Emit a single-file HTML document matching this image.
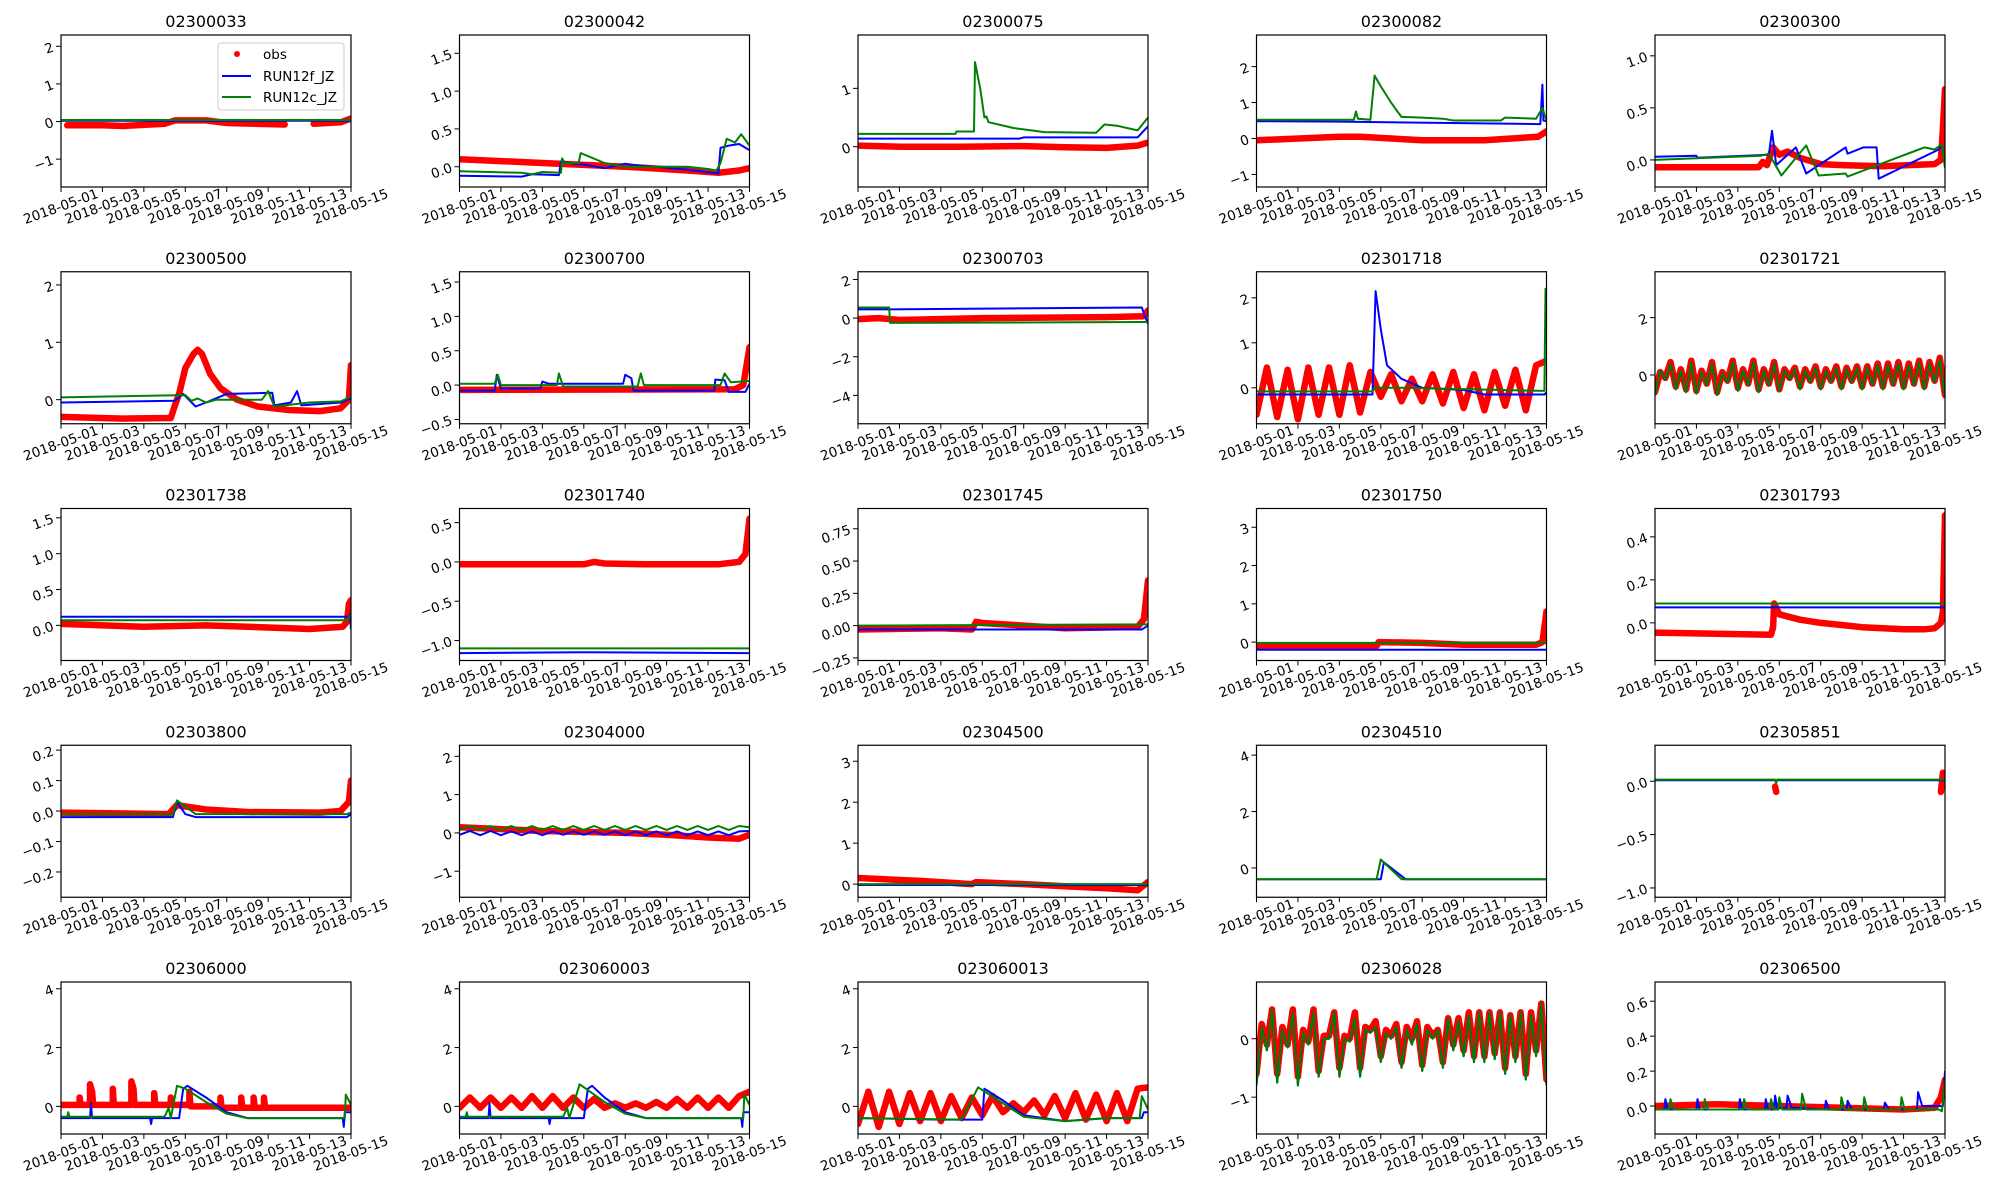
<!DOCTYPE html>
<html><head><meta charset="utf-8"><style>
html,body{margin:0;padding:0;background:#fff;}
svg{display:block;font-family:"DejaVu Sans","Liberation Sans",sans-serif;}
</style></head><body>
<svg id="fig" width="2000" height="1200" viewBox="0 0 2000 1200" xmlns="http://www.w3.org/2000/svg"></svg>
<script>
// ---------- data ----------
const titles = ["02300033","02300042","02300075","02300082","02300300","02300500","02300700","02300703","02301718","02301721","02301738","02301740","02301745","02301750","02301793","02303800","02304000","02304500","02304510","02305851","02306000","023060003","023060013","02306028","02306500"];
const yRanges = [[-1.74,2.3],[-0.268,1.742],[-0.69,1.914],[-1.35,2.88],[-0.26,1.2],[-0.42,2.23],[-0.563,1.65],[-5.47,2.4],[-0.8,2.58],[-1.7,3.6],[-0.49,1.63],[-1.254,0.68],[-0.27,0.907],[-0.48,3.49],[-0.175,0.532],[-0.283,0.216],[-1.68,2.29],[-0.32,3.39],[-1.04,4.35],[-1.087,0.337],[-0.94,4.23],[-0.94,4.23],[-0.94,4.23],[-1.63,0.97],[-0.16,0.71]];
const yTicks = [[-1,0,1,2],[0,0.5,1,1.5],[0,1],[-1,0,1,2],[0,0.5,1],[0,1,2],[-0.5,0,0.5,1,1.5],[-4,-2,0,2],[0,1,2],[0,2],[0,0.5,1,1.5],[-1,-0.5,0,0.5],[-0.25,0,0.25,0.5,0.75],[0,1,2,3],[0,0.2,0.4],[-0.2,-0.1,0,0.1,0.2],[-1,0,1,2],[0,1,2,3],[0,2,4],[-1,-0.5,0],[0,2,4],[0,2,4],[0,2,4],[-1,0],[0,0.2,0.4,0.6]];
const yTickLabels = [["−1","0","1","2"],["0.0","0.5","1.0","1.5"],["0","1"],["−1","0","1","2"],["0.0","0.5","1.0"],["0","1","2"],["−0.5","0.0","0.5","1.0","1.5"],["−4","−2","0","2"],["0","1","2"],["0","2"],["0.0","0.5","1.0","1.5"],["−1.0","−0.5","0.0","0.5"],["−0.25","0.00","0.25","0.50","0.75"],["0","1","2","3"],["0.0","0.2","0.4"],["−0.2","−0.1","0.0","0.1","0.2"],["−1","0","1","2"],["0","1","2","3"],["0","2","4"],["−1.0","−0.5","0.0"],["0","2","4"],["0","2","4"],["0","2","4"],["−1","0"],["0.0","0.2","0.4","0.6"]];
const xTickDays = [0,2,4,6,8,10,12,14];
const xTickLabels = ["2018-05-01","2018-05-03","2018-05-05","2018-05-07","2018-05-09","2018-05-11","2018-05-13","2018-05-15"];

// series as [day, value]; null breaks a line
const obs = [
 [[0.3,-0.1],[2,-0.1],[3,-0.12],[5,-0.06],[5.5,0.03],[7,0.03],[8,-0.04],[10.8,-0.08],[11,null],[12.2,-0.06],[13.5,-0.02],[14,0.08]],
 [[0,0.1],[4,0.05],[8,0.0],[11,-0.05],[12.5,-0.08],[13.5,-0.05],[14,-0.02]],
 [[0,0.02],[2,0],[5,0],[8,0.01],[10,-0.01],[12,-0.02],[13.5,0.02],[14,0.07]],
 [[0,-0.05],[4,0.05],[5,0.05],[8,-0.05],[11,-0.05],[13.6,0.05],[14,0.2]],
 [[0,-0.07],[5,-0.07],[5.2,-0.02],[5.4,-0.05],[5.7,0.12],[6,0.05],[6.4,0.08],[7,0.02],[8,-0.04],[9,-0.05],[11,-0.06],[13.5,-0.04],[13.8,0.0],[13.9,0.3],[14,0.68]],
 [[0,-0.3],[3,-0.33],[5.3,-0.32],[5.5,-0.1],[5.7,0.1],[6,0.55],[6.4,0.8],[6.6,0.87],[6.8,0.8],[7.2,0.45],[7.7,0.2],[8.5,0.0],[9.5,-0.12],[11,-0.18],[12.5,-0.2],[13.5,-0.15],[13.9,0],[14,0.6]],
 [[0,-0.07],[13.3,-0.06],[13.7,0.0],[14,0.55]],
 [[0,-0.05],[1,0],[2,-0.1],[6,0],[12,0.05],[13.8,0.1],[14,0.4]],
 [[0,-0.6],[0.5,0.45],[1,-0.65],[1.5,0.4],[2,-0.7],[2.5,0.45],[3,-0.6],[3.5,0.45],[4,-0.6],[4.5,0.5],[5,-0.55],[5.5,0.35],[6,-0.2],[6.5,0.3],[7,-0.3],[7.5,0.2],[8,-0.3],[8.5,0.3],[9,-0.35],[9.5,0.35],[10,-0.45],[10.5,0.3],[11,-0.5],[11.5,0.35],[12,-0.4],[12.5,0.4],[13,-0.5],[13.5,0.5],[14,0.6]],
 "o10",
 [[0,0.02],[4,-0.02],[7,0],[10,-0.03],[12,-0.05],[13.6,-0.02],[13.8,0.05],[13.9,0.3],[14,0.35]],
 [[0,-0.03],[6,-0.03],[6.5,0.0],[7,-0.02],[9,-0.03],[12.5,-0.03],[13.5,0],[13.8,0.1],[14,0.55]],
 [[0,-0.03],[4,-0.02],[5.5,-0.03],[5.7,0.03],[6,0.02],[8,0],[10,-0.02],[13.5,-0.01],[13.8,0.05],[14,0.35]],
 [[0,-0.1],[5.8,-0.1],[5.9,0.0],[8,-0.02],[10,-0.07],[13.5,-0.07],[13.8,0.0],[14,0.8]],
 [[0,-0.045],[5.6,-0.055],[5.7,-0.02],[5.75,0.09],[6,0.04],[7,0.015],[8,0],[9,-0.01],[10,-0.02],[11,-0.025],[12,-0.03],[13,-0.03],[13.5,-0.025],[13.8,0.0],[13.9,0.05],[14,0.5]],
 [[0,-0.005],[5.2,-0.01],[5.6,0.02],[6,0.015],[7,0.005],[9,-0.003],[12.5,-0.005],[13.5,0.0],[13.9,0.03],[14,0.1]],
 [[0,0.15],[4,0.05],[8,0.0],[10,-0.05],[12,-0.12],[13.5,-0.15],[14,-0.05]],
 [[0,0.15],[3,0.08],[5.5,0.0],[5.7,0.05],[8,0.0],[10,-0.05],[12,-0.1],[13.5,-0.15],[14,0.05]],
 [],
 [[5.8,-0.05],[5.85,-0.1],[5.9,null],[13.8,-0.1],[13.9,0.08],[14,-0.05]],
 [[0,0.05],[0.9,0.05],[0.9,0.3],[0.95,0.05],[1.4,0.05],[1.4,0.75],[1.5,0.5],[1.55,0.05],[2.5,0.05],[2.5,0.6],[2.55,0.05],[3.4,0.05],[3.4,0.85],[3.5,0.6],[3.55,0.05],[4.5,0.05],[4.5,0.45],[4.55,0.05],[5.3,0.05],[5.3,0.3],[5.35,0.05],[6.2,0.05],[6.2,0.5],[6.25,0.0],[7.7,0.0],[7.7,0.3],[7.75,-0.05],[8.7,-0.05],[8.7,0.3],[8.75,-0.05],[9.3,-0.05],[9.3,0.3],[9.35,-0.05],[9.8,-0.05],[9.8,0.3],[9.85,-0.05],[14,-0.05]],
 [[0,-0.05],[0.5,0.3],[1,-0.05],[1.5,0.3],[2,-0.05],[2.5,0.3],[3,-0.05],[3.5,0.35],[4,-0.05],[4.5,0.35],[5,-0.05],[5.5,0.3],[6,-0.05],[6.5,0.25],[7,-0.05],[7.5,0.1],[8,-0.05],[8.5,0.1],[9,-0.05],[9.5,0.15],[10,-0.05],[10.5,0.25],[11,-0.05],[11.5,0.3],[12,-0.05],[12.5,0.3],[13,-0.05],[13.5,0.35],[14,0.5]],
 [[0,-0.6],[0.5,0.5],[1,-0.7],[1.5,0.5],[2,-0.6],[2.5,0.45],[3,-0.5],[3.5,0.45],[4,-0.5],[4.5,0.35],[5,-0.4],[5.5,0.3],[6,-0.3],[6.5,0.35],[7,-0.2],[7.5,0.1],[8,-0.2],[8.5,0.2],[9,-0.3],[9.5,0.35],[10,-0.4],[10.5,0.45],[11,-0.45],[11.5,0.4],[12,-0.5],[12.5,0.45],[13,-0.5],[13.5,0.6],[14,0.65]],
 "o24",
 [[0,0.0],[3,0.01],[6,0.0],[9,-0.01],[12,-0.02],[13.5,-0.01],[13.8,0.05],[14,0.15]]
];
const q10obs = [-0.6,0.1,-0.1,0.45,-0.4,0.2,-0.5,0.5,-0.55,0.15,-0.3,0.45,-0.6,0.1,-0.2,0.5,-0.45,0.2,-0.3,0.5,-0.5,0.2,-0.3,0.45,-0.5,0.2,-0.1,0.25,-0.4,0.2,-0.2,0.3,-0.4,0.2,-0.2,0.3,-0.4,0.25,-0.2,0.3,-0.4,0.3,-0.3,0.4,-0.4,0.4,-0.3,0.45,-0.4,0.4,-0.3,0.5,-0.4,0.45,-0.2,0.6,-0.7];
const q10mod = [-0.7,0.15,-0.15,0.4,-0.5,0.15,-0.6,0.45,-0.65,0.1,-0.35,0.4,-0.7,0.05,-0.25,0.45,-0.55,0.15,-0.35,0.45,-0.6,0.15,-0.35,0.4,-0.55,0.15,-0.15,0.2,-0.5,0.15,-0.25,0.25,-0.5,0.15,-0.25,0.25,-0.5,0.2,-0.25,0.25,-0.5,0.25,-0.35,0.35,-0.5,0.35,-0.35,0.4,-0.5,0.35,-0.35,0.45,-0.5,0.4,-0.25,0.55,-0.8];
const q24obs = [-0.6,0.25,-0.1,0.5,-0.6,0.2,-0.1,0.5,-0.65,0.15,-0.05,0.5,-0.55,0.05,0.05,0.45,-0.5,0.05,0.0,0.45,-0.5,0.2,0.15,0.3,-0.3,0.15,0.05,0.25,-0.4,0.2,0.0,0.3,-0.45,0.2,0.05,0.15,-0.4,0.35,-0.1,0.35,-0.2,0.45,-0.3,0.45,-0.3,0.45,-0.25,0.45,-0.5,0.4,-0.3,0.45,-0.6,0.45,-0.2,0.6,-0.7];
const q24mod = [-0.8,0.2,-0.2,0.5,-0.75,0.15,-0.15,0.45,-0.8,0.1,-0.1,0.45,-0.65,0.0,0.0,0.45,-0.65,0.0,-0.05,0.35,-0.65,0.15,0.1,0.2,-0.4,0.1,0.0,0.2,-0.5,0.15,-0.1,0.25,-0.55,0.15,0.0,0.15,-0.5,0.35,-0.2,0.3,-0.3,0.4,-0.4,0.45,-0.4,0.45,-0.35,0.45,-0.6,0.4,-0.4,0.45,-0.7,0.4,-0.3,0.6,-0.8];
const q17green = [0.08,0.18,0.08,0.18,0.08,0.18,0.08,0.18,0.08,0.18,0.08,0.18,0.08,0.18,0.08,0.18,0.08,0.18,0.08,0.18,0.08,0.18,0.08,0.18,0.08,0.18,0.08,0.18,0.15];
const q17blue = [-0.05,0.05,-0.06,0.05,-0.06,0.04,-0.06,0.04,-0.06,0.04,-0.05,0.04,-0.05,0.04,-0.05,0.04,-0.06,0.04,-0.06,0.04,-0.06,0.04,-0.06,0.04,-0.06,0.04,-0.06,0.04,0.05];

const blue = [
 [[0,0.02],[14,0.02]],
 [[0,-0.12],[3,-0.13],[3.5,-0.1],[4.8,-0.11],[4.9,0.07],[5.5,0.04],[6,0.03],[7,-0.02],[8,0.04],[8.5,0.02],[9.5,0],[11,-0.04],[12.5,-0.09],[12.6,0.25],[13,0.28],[13.5,0.3],[14,0.22]],
 [[0,0.14],[7.8,0.14],[8,0.16],[13.5,0.16],[14,0.35]],
 [[0,0.48],[4,0.47],[13.7,0.4],[13.8,1.5],[13.85,0.5],[14,0.48]],
 [[0,0.03],[2,0.04],[2.05,0.02],[5.5,0.05],[5.65,0.28],[5.85,-0.05],[6.8,0.12],[7.3,-0.13],[9.2,0.12],[9.3,0.06],[10.05,0.12],[10.7,0.12],[10.8,-0.18],[13.7,0.1],[13.85,0.15],[14,-0.05]],
 [[0,-0.05],[5.5,-0.02],[5.9,0.1],[6.5,-0.12],[7,-0.05],[8,0.1],[10.2,0.12],[10.3,-0.1],[11.1,-0.05],[11.4,0.15],[11.6,-0.1],[13.5,-0.05],[14,0.02]],
 [[0,-0.08],[1.7,-0.08],[1.8,0.15],[2.0,-0.05],[3.9,-0.05],[4.0,0.05],[4.3,0.02],[7.9,0.02],[8.0,0.15],[8.3,0.1],[8.4,-0.08],[12.3,-0.08],[12.35,0.08],[12.8,0.07],[13.0,-0.1],[13.8,-0.1],[14,0.02]],
 [[0,0.45],[1.3,0.45],[13.7,0.55],[14,-0.3]],
 [[0,-0.15],[5.6,-0.15],[5.75,2.15],[6,1.3],[6.3,0.5],[7,0.2],[8,0],[10,-0.05],[11,-0.15],[13.9,-0.15],[14,-0.1]],
 "m10",
 [[0,0.12],[13.9,0.12],[13.95,0.15],[14,-0.05]],
 [[0,-1.16],[6,-1.15],[14,-1.16]],
 [[0,-0.03],[13.7,-0.03],[14,0.0]],
 [[0,-0.2],[14,-0.2]],
 [[0,0.072],[14,0.072]],
 [[0,-0.02],[5.4,-0.02],[5.6,0.03],[6,-0.01],[6.5,-0.02],[13.8,-0.02],[14,-0.01]],
 "b17",
 [[0,-0.02],[14,-0.02]],
 [[0,-0.4],[6,-0.4],[6.15,0.2],[7.2,-0.4],[14,-0.4]],
 [[0,0.01],[14,0.01]],
 [[0,-0.4],[1.4,-0.4],[1.45,0.1],[1.5,-0.4],[4.3,-0.4],[4.35,-0.6],[4.4,-0.4],[5.7,-0.4],[5.9,0.6],[6.1,0.7],[7,0.3],[8,-0.2],[9,-0.4],[13.6,-0.4],[13.65,-0.7],[13.7,-0.2],[14,-0.2]],
 [[0,-0.4],[1.4,-0.4],[1.45,0.1],[1.5,-0.4],[4.3,-0.4],[4.35,-0.6],[4.4,-0.4],[6.0,-0.4],[6.2,0.6],[6.4,0.7],[7,0.3],[8,-0.2],[9,-0.4],[13.6,-0.4],[13.65,-0.7],[13.7,-0.2],[14,-0.2]],
 [[0,-0.4],[4,-0.45],[6,-0.45],[6.1,0.6],[7,0.2],[8,-0.3],[10,-0.5],[12,-0.4],[13.7,-0.4],[13.8,-0.2],[14,-0.2]],
 "m24",
 [[0,-0.02],[0.45,-0.02],[0.5,0.04],[0.6,-0.02],[2.0,-0.02],[2.05,0.04],[2.15,-0.02],[4.05,-0.02],[4.1,0.04],[4.2,-0.02],[5.3,-0.02],[5.35,0.04],[5.45,-0.02],[5.75,-0.02],[5.8,0.06],[5.9,-0.01],[6.35,-0.01],[6.4,0.06],[6.6,-0.01],[8.2,-0.02],[8.25,0.03],[8.4,-0.02],[9.25,-0.02],[9.3,0.03],[9.5,-0.02],[11.05,-0.02],[11.1,0.02],[11.3,-0.02],[12.65,-0.02],[12.7,0.08],[12.9,0],[13.9,0],[14,0.2]]
];
const green = [
 [[0,0.04],[14,0.04]],
 [[0,-0.06],[3,-0.08],[3.5,-0.1],[4,-0.07],[4.9,-0.08],[4.95,0.11],[5.1,0.05],[5.75,0.05],[5.85,0.18],[7,0.05],[8,0.0],[10,0],[11,0],[12,-0.03],[12.4,-0.05],[12.6,0.05],[12.9,0.37],[13.3,0.32],[13.6,0.43],[14,0.28]],
 [[0,0.22],[4.7,0.22],[4.75,0.26],[5.6,0.26],[5.65,1.45],[5.9,1.0],[6.1,0.5],[6.2,0.52],[6.3,0.42],[7.5,0.32],[9,0.25],[11.5,0.24],[11.9,0.38],[12.5,0.36],[13.5,0.28],[14,0.5]],
 [[0,0.52],[4.7,0.52],[4.8,0.75],[4.9,0.55],[5.5,0.52],[5.7,1.75],[6,1.45],[6.5,1.0],[6.8,0.75],[7,0.6],[8,0.58],[9,0.55],[9.5,0.5],[11.8,0.5],[12,0.58],[13.5,0.55],[13.8,0.85],[14,0.5]],
 [[0,0],[5.1,0.04],[5.5,0.06],[6.1,-0.15],[7.3,0.14],[7.9,-0.15],[9.2,-0.13],[9.3,-0.16],[13.0,0.12],[13.5,0.1],[13.85,0.15],[14,-0.08]],
 [[0,0.04],[6,0.08],[6.3,-0.02],[6.6,0.02],[7,-0.05],[7.5,0.0],[9.7,0.0],[10,0.15],[10.3,-0.12],[12,-0.05],[13.5,-0.03],[14,0.05]],
 [[0,0.02],[1.7,0.02],[1.85,0.15],[2,0.0],[4.7,0.0],[4.8,0.17],[5.0,-0.02],[8.6,-0.02],[8.75,0.17],[8.9,0.0],[12.6,0],[12.8,0.17],[13.1,0.04],[14,0.06]],
 [[0,0.55],[1.5,0.55],[1.55,-0.25],[14,-0.2]],
 [[0,-0.08],[5.6,-0.08],[5.7,0.0],[7,0],[13.9,-0.07],[13.95,2.2],[14,2.2]],
 "m10",
 [[0,0.07],[13.8,0.07],[14,0.15]],
 [[0,-1.1],[14,-1.1]],
 [[0,0.0],[14,0.01]],
 [[0,-0.02],[14,-0.02]],
 [[0,0.09],[14,0.09]],
 [[0,-0.01],[5.4,-0.01],[5.6,0.035],[6.5,-0.01],[13.8,-0.01],[14,-0.005]],
 "g17",
 [[0,0],[14,0]],
 [[0,-0.4],[5.8,-0.4],[6.0,0.3],[7,-0.4],[14,-0.4]],
 [[0,0.015],[5.8,0.015],[5.85,-0.02],[5.9,0.015],[14,0.015]],
 [[0,-0.35],[0.3,-0.35],[0.35,-0.2],[0.4,-0.35],[5,-0.35],[5.2,-0.05],[5.3,-0.4],[5.6,0.7],[6.0,0.6],[7,0.15],[8,-0.25],[9,-0.4],[13.7,-0.4],[13.75,0.4],[14,0.05]],
 [[0,-0.35],[0.3,-0.35],[0.35,-0.2],[0.4,-0.35],[5,-0.35],[5.2,-0.05],[5.3,-0.4],[5.8,0.75],[6.1,0.6],[7,0.15],[8,-0.25],[9,-0.4],[13.7,-0.4],[13.75,0.4],[14,0.05]],
 [[0,-0.4],[5,-0.45],[5.8,0.65],[7,0.1],[8,-0.35],[10,-0.5],[12,-0.4],[13.6,-0.4],[13.7,0.35],[14,-0.1]],
 "m24",
 [[0,-0.02],[0.7,-0.02],[0.75,0.04],[0.9,-0.02],[2.35,-0.02],[2.4,0.04],[2.55,-0.02],[4.25,-0.02],[4.3,0.04],[4.45,-0.02],[5.55,-0.02],[5.6,0.04],[5.75,-0.02],[5.95,-0.02],[6.0,0.05],[6.15,-0.02],[7.05,-0.02],[7.1,0.07],[7.3,-0.02],[8.95,-0.02],[9.0,0.05],[9.15,-0.02],[10.05,-0.02],[10.1,0.05],[10.25,-0.02],[11.85,-0.02],[11.9,0.05],[12.05,-0.02],[13.7,-0.02],[13.85,-0.03],[14,0.15]]
];

// ---------- rendering ----------
const NS = "http://www.w3.org/2000/svg";
const svg = document.getElementById("fig");
const AX_W = 290, AX_H = 152;
function mk(tag, attrs, parent){ const e=document.createElementNS(NS,tag); for(const k in attrs) e.setAttribute(k,attrs[k]); (parent||svg).appendChild(e); return e; }
function seq(step, vals){ return vals.map((v,i)=>[i*step, v]); }
function resolve(s, kind){
  if (s==="o10") return seq(0.25,q10obs);
  if (s==="m10") return seq(0.25,q10mod);
  if (s==="o24") return seq(0.25,q24obs);
  if (s==="m24") return seq(0.25,q24mod);
  if (s==="b17") return seq(0.5,q17blue);
  if (s==="g17") return seq(0.5,q17green);
  return s;
}
function pathFor(pts, xs, ys){
  let d="", pen=false;
  for(const [t,v] of pts){
    if(v===null){ pen=false; continue; }
    d += (pen?"L":"M") + xs(t).toFixed(1) + "," + ys(v).toFixed(1);
    pen=true;
  }
  return d;
}

titles.forEach((title, i) => {
  const r = Math.floor(i/5), c = i%5;
  const L = 61 + c*398.5, T = 35 + r*236.75;
  const [y0,y1] = yRanges[i];
  const xs = t => L + t/14*AX_W;
  const ys = v => T + AX_H - (v-y0)/(y1-y0)*AX_H;
  const g = mk("g", {});
  
  

  const tt = mk("text", {x:L+AX_W/2, y:T-8, "font-size":16, "text-anchor":"middle", fill:"#000"}, g);
  tt.textContent = title;
  
  

  const cid = "clip"+i;
  const cp = mk("clipPath", {id:cid}, g);
  mk("rect", {x:L, y:T, width:AX_W, height:AX_H}, cp);
  const plot = mk("g", {"clip-path":"url(#"+cid+")"}, g);

  const po = resolve(obs[i]);
  if (po.length){
    const p = mk("path", {d:pathFor(po,xs,ys), fill:"none", stroke:"#ff0000", "stroke-width":6.5, "stroke-linecap":"round", "stroke-linejoin":"round"}, plot);
    
    
  }
  const pb = mk("path", {d:pathFor(resolve(blue[i]),xs,ys), fill:"none", stroke:"#0000ff", "stroke-width":2, "stroke-linejoin":"round"}, plot);
  
  
  const pg = mk("path", {d:pathFor(resolve(green[i]),xs,ys), fill:"none", stroke:"#008000", "stroke-width":2, "stroke-linejoin":"round"}, plot);
  
  

  const fr = mk("rect", {x:L, y:T, width:AX_W, height:AX_H, fill:"none", stroke:"#000", "stroke-width":1.2}, g);
  
  

  xTickDays.forEach((d,k) => {
    const x = xs(d);
    mk("line", {x1:x, y1:T+AX_H, x2:x, y2:T+AX_H+5, stroke:"#000", "stroke-width":1}, g);
    const cy = T+AX_H+20;
    const lb = mk("text", {x:x, y:cy+4, "font-size":13.5, "text-anchor":"middle", fill:"#000", transform:"rotate(-20 "+x+" "+cy+")"}, g);
    lb.textContent = xTickLabels[k];
    
    
  });
  yTicks[i].forEach((v,k) => {
    const y = ys(v);
    mk("line", {x1:L-5, y1:y, x2:L, y2:y, stroke:"#000", "stroke-width":1}, g);
    const lx = L-8;
    const lb = mk("text", {x:lx, y:y+5, "font-size":13.5, "text-anchor":"end", fill:"#000", transform:"rotate(-20 "+lx+" "+y+")"}, g);
    lb.textContent = yTickLabels[i][k];
    
    
  });

  if (i===0){
    const lg = mk("g", {}, g);
    
    
    mk("rect", {x:218, y:43, width:126, height:67, rx:3, fill:"#fff", "fill-opacity":0.8, stroke:"#ccc"}, lg);
    mk("circle", {cx:237, cy:54, r:3, fill:"#ff0000"}, lg);
    mk("line", {x1:222, y1:76, x2:251, y2:76, stroke:"#0000ff", "stroke-width":2}, lg);
    mk("line", {x1:222, y1:97, x2:251, y2:97, stroke:"#008000", "stroke-width":2}, lg);
    [["obs",59],["RUN12f_JZ",81],["RUN12c_JZ",102]].forEach(([s,y])=>{
      const t = mk("text", {x:263, y:y, "font-size":13.5, fill:"#000"}, lg);
      t.textContent = s;
      
      
    });
  }
});
</script>
</body></html>
